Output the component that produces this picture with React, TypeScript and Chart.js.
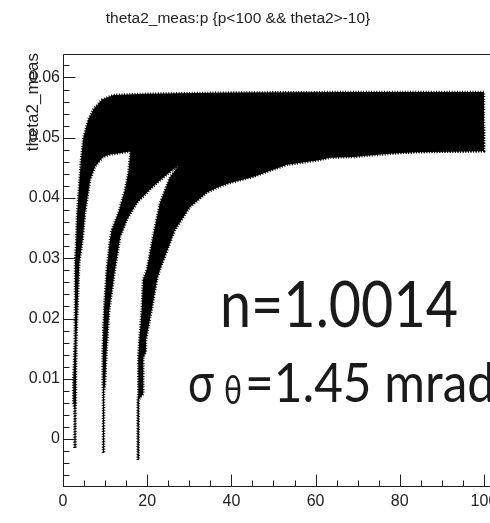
import React, { useEffect, useRef } from "react";
import { Chart, registerables } from "chart.js";

Chart.register(...registerables);

// ---- text ----
const TITLE = "theta2_meas:p {p<100 && theta2>-10}";
const Y_TITLE = "theta2_meas";
const NOTE_N = "n=1.0014";
const NOTE_SIGMA = "σ";
const NOTE_SUB = "θ";
const NOTE_VALUE = "=1.45 mrad";

// ---- axes ----
const X_MIN = 0;
const X_MAX = 105;
const Y_MIN = -0.0078;
const Y_MAX = 0.0639;
const X_TICKS = [0, 20, 40, 60, 80, 100];
const Y_TICKS = [0, 0.01, 0.02, 0.03, 0.04, 0.05, 0.06];
const X_MINOR_STEP = 5;
const Y_MINOR_STEP = 0.002;

// ---- band outlines: [p, theta2_meas] ----
const pionUpper = [
  [2.73, -0.0015], [2.73, 0.005], [2.45, 0.006], [2.45, 0.0098], [2.78, 0.0164],
  [2.85, 0.0236], [2.85, 0.0292], [3.15, 0.0331], [3.28, 0.0364], [3.64, 0.0402],
  [4.2, 0.0458], [4.83, 0.05], [6.0, 0.053], [7.2, 0.0547], [9.2, 0.0563],
  [12, 0.0571], [20, 0.0573], [40, 0.0575], [70, 0.0576], [100, 0.0576],
];
const pionLower = [
  [2.97, -0.0015], [2.97, 0.005], [3.09, 0.006], [3.09, 0.0098], [3.21, 0.0164],
  [3.56, 0.0236], [3.87, 0.0292], [4.68, 0.0331], [5.25, 0.0375], [6.45, 0.043],
  [7.6, 0.0452], [9.5, 0.0468], [11.2, 0.0472], [16, 0.0477], [40, 0.0478],
  [100, 0.0478],
];
const kaonUpper = [
  [9.5, -0.0023], [9.5, 0.0081], [9.43, 0.0089], [9.43, 0.0148], [9.74, 0.0214],
  [10.38, 0.0281], [11.16, 0.0331], [11.57, 0.0347], [13.14, 0.0375], [14.73, 0.0414],
  [15.51, 0.0442], [15.9, 0.0468], [16.2, 0.049], [25, 0.051], [100, 0.052],
];
const kaonLower = [
  [9.74, -0.0023], [9.74, 0.0081], [9.98, 0.0089], [10.38, 0.0148], [11.0, 0.0214],
  [12.35, 0.0281], [13.6, 0.0336], [14.25, 0.0347], [15.2, 0.0364], [17.58, 0.0392],
  [21.4, 0.0419], [25.4, 0.0443], [27.3, 0.0453], [40, 0.047], [100, 0.0478],
];
const protonUpper = [
  [17.74, -0.0035], [17.74, 0.0065], [17.89, 0.0075], [17.89, 0.0135], [18.12, 0.0164],
  [18.69, 0.0214], [19.0, 0.0264], [19.9, 0.0281], [21.38, 0.0336], [23.04, 0.0392],
  [25.42, 0.0435], [27.32, 0.0452], [32, 0.049], [60, 0.051], [100, 0.052],
];
const protonLower = [
  [17.98, -0.0035], [17.98, 0.0065], [19.07, 0.0075], [19.07, 0.0135], [19.71, 0.0145],
  [19.71, 0.0164], [21.07, 0.0214], [22.33, 0.0264], [23.04, 0.0281], [26.6, 0.0347],
  [27.08, 0.0352], [30.17, 0.0385], [34.2, 0.0409], [37.29, 0.0419], [39.67, 0.0425],
  [45.13, 0.0435], [53.2, 0.0455], [61.05, 0.0463], [63.42, 0.0467], [68.9, 0.0468],
  [75.3, 0.0472], [84.8, 0.0477], [100, 0.0478],
];

const BANDS = [
  { name: "pi", upper: pionUpper, lower: pionLower },
  { name: "K", upper: kaonUpper, lower: kaonLower },
  { name: "p", upper: protonUpper, lower: protonLower },
];

const outline = (upper: number[][], lower: number[][]) =>
  [...upper, ...lower.slice().reverse()].map(([x, y]) => ({ x, y }));

const LABEL_FONT = '"Liberation Sans", Arial, sans-serif';
const INK = "#1e1e1e";

const rootFrame = {
  id: "rootFrame",
  afterDraw(chart: any) {
    const { ctx, chartArea: a, scales } = chart;
    const xs = scales.x;
    const ys = scales.y;
    ctx.save();
    ctx.strokeStyle = INK;
    ctx.lineWidth = 1;
    const L = Math.round(a.left) + 0.5;
    const B = Math.round(a.bottom) + 0.5;
    const T = Math.round(a.top) + 0.5;
    const R = Math.round(a.right) + 0.5;
    ctx.beginPath();
    ctx.moveTo(L, B);
    ctx.lineTo(L, T);
    ctx.lineTo(R, T);
    ctx.moveTo(L, B);
    ctx.lineTo(R, B);
    ctx.stroke();

    // y ticks (inward)
    ctx.beginPath();
    for (let v = Math.ceil(Y_MIN / Y_MINOR_STEP) * Y_MINOR_STEP; v <= Y_MAX; v += Y_MINOR_STEP) {
      const y = Math.round(ys.getPixelForValue(v)) + 0.5;
      ctx.moveTo(L, y);
      ctx.lineTo(L + 6, y);
    }
    for (const v of Y_TICKS) {
      const y = Math.round(ys.getPixelForValue(v)) + 0.5;
      ctx.moveTo(L, y);
      ctx.lineTo(L + 12, y);
    }
    for (let v = X_MIN; v <= X_MAX; v += X_MINOR_STEP) {
      const x = Math.round(xs.getPixelForValue(v)) + 0.5;
      ctx.moveTo(x, B);
      ctx.lineTo(x, B - 6);
    }
    for (const v of X_TICKS) {
      const x = Math.round(xs.getPixelForValue(v)) + 0.5;
      ctx.moveTo(x, B);
      ctx.lineTo(x, B - 12);
    }
    ctx.stroke();

    // title
    ctx.fillStyle = "#222";
    ctx.font = `15.5px ${LABEL_FONT}`;
    ctx.textAlign = "center";
    ctx.textBaseline = "alphabetic";
    ctx.fillText(TITLE, 238, 23);

    // y title
    ctx.save();
    ctx.translate(38, 53);
    ctx.rotate(-Math.PI / 2);
    ctx.textAlign = "right";
    ctx.font = `17px ${LABEL_FONT}`;
    ctx.fillText(Y_TITLE, 0, 0);
    ctx.restore();

    // annotations
    ctx.fillStyle = "#1a1a1a";
    ctx.textAlign = "left";
    ctx.font = '64px Lato, "Open Sans", sans-serif';
    ctx.fillText(NOTE_N, 220, 327, 238);
    ctx.font = '56px Lato, "Open Sans", sans-serif';
    ctx.fillText(NOTE_SIGMA, 188, 402, 26);
    ctx.font = '40px Lato, "Open Sans", sans-serif';
    ctx.fillText(NOTE_SUB, 224, 404, 18);
    ctx.font = '54px Lato, "Open Sans", sans-serif';
    ctx.fillText(NOTE_VALUE, 245, 402, 250);
    ctx.restore();
  },
};

export default function App() {
  const ref = useRef<HTMLCanvasElement | null>(null);
  useEffect(() => {
    const canvas = ref.current;
    if (!canvas) return;
    const chart = new Chart(canvas, {
      type: "scatter",
      data: {
        datasets: BANDS.map((b) => ({
          label: b.name,
          data: outline(b.upper, b.lower),
          showLine: true,
          fill: "shape",
          backgroundColor: "#000",
          borderColor: "#000",
          borderWidth: 2.5,
          borderDash: [1, 1.6],
          pointRadius: 0,
          tension: 0,
        })),
      } as any,
      options: {
        responsive: false,
        animation: false,
        devicePixelRatio: 1,
        layout: { padding: { top: 54, right: 15, left: 0, bottom: 0 } },
        plugins: { legend: { display: false }, tooltip: { enabled: false }, title: { display: false } },
        scales: {
          x: {
            type: "linear",
            min: X_MIN,
            max: X_MAX,
            afterBuildTicks: (s: any) => {
              s.ticks = X_TICKS.map((value) => ({ value }));
            },
            afterFit: (s: any) => {
              s.height = 37;
            },
            grid: { display: false, drawTicks: false },
            border: { display: false },
            ticks: {
              autoSkip: false,
              maxRotation: 0,
              padding: 6,
              color: "#222",
              font: { size: 16, family: LABEL_FONT },
              callback: (v: any) => String(v),
            },
          },
          y: {
            type: "linear",
            min: Y_MIN,
            max: Y_MAX,
            afterBuildTicks: (s: any) => {
              s.ticks = Y_TICKS.map((value) => ({ value }));
            },
            afterFit: (s: any) => {
              s.width = 63;
            },
            grid: { display: false, drawTicks: false },
            border: { display: false },
            ticks: {
              autoSkip: false,
              padding: 3,
              color: "#222",
              font: { size: 16, family: LABEL_FONT },
              callback: (v: any) => String(Number(Number(v).toFixed(3))),
            },
          },
        },
      } as any,
      plugins: [rootFrame],
    });
    return () => chart.destroy();
  }, []);
  return (
    <div style={{ position: "fixed", left: 0, top: 0, width: 490, height: 523, overflow: "hidden", background: "#fff" }}>
      <canvas ref={ref} width={520} height={523} style={{ width: 520, height: 523, display: "block" }} />
    </div>
  );
}
